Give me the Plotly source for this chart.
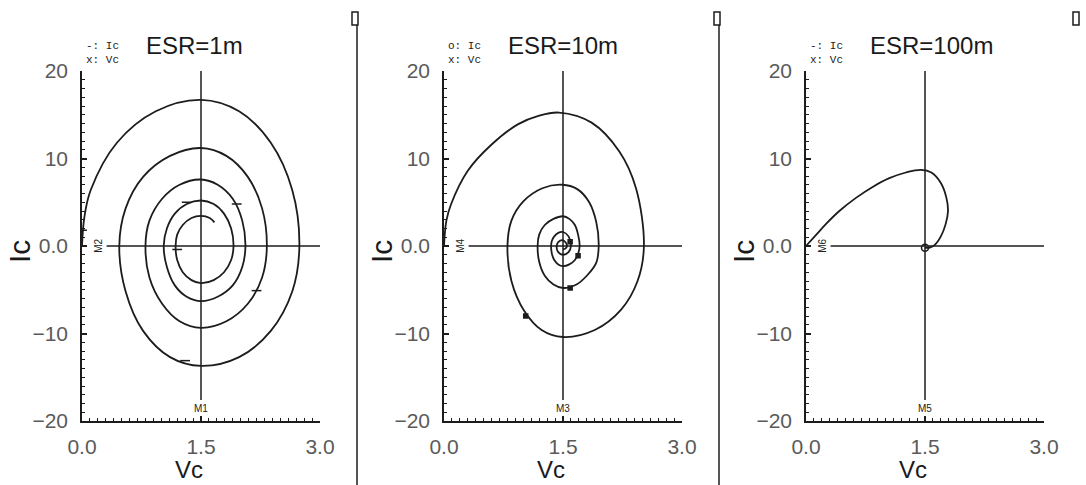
import plotly.graph_objects as go

W, H = 1086, 485

# ---- data: capacitor phase trajectories (Vc in V, Ic in A) ----
vc_1m = [0.0, 0.03, 0.11, 0.44, 0.93, 1.50, 1.98, 2.38, 2.65, 2.74,
         2.65, 2.38, 1.98, 1.50, 1.11, 0.77, 0.55, 0.47,
         0.55, 0.77, 1.11, 1.50, 1.82, 2.09, 2.27, 2.33,
         2.27, 2.09, 1.82, 1.50, 1.23, 1.01, 0.85, 0.80,
         0.85, 1.01, 1.23, 1.50, 1.71, 1.90, 2.02, 2.06,
         2.02, 1.90, 1.71, 1.50, 1.32, 1.17, 1.07, 1.03,
         1.07, 1.17, 1.32, 1.50, 1.66, 1.79, 1.88, 1.91,
         1.88, 1.79, 1.66, 1.50, 1.38, 1.27, 1.20, 1.18,
         1.20, 1.27, 1.38, 1.50, 1.61, 1.67]
ic_1m = [0.0, 3.3, 6.4, 11.8, 15.4, 16.7, 15.4, 11.8, 6.4, 0.0,
         -5.2, -9.7, -12.7, -13.7, -12.7, -9.7, -5.2, 0.0,
         4.3, 7.9, 10.3, 11.2, 10.3, 7.9, 4.3, 0.0,
         -3.6, -6.6, -8.6, -9.35, -8.6, -6.6, -3.6, 0.0,
         2.9, 5.4, 7.0, 7.6, 7.0, 5.4, 2.9, 0.0,
         -2.4, -4.5, -5.8, -6.3, -5.8, -4.5, -2.4, 0.0,
         2.0, 3.7, 4.8, 5.2, 4.8, 3.7, 2.0, 0.0,
         -1.6, -3.0, -3.9, -4.25, -3.9, -3.0, -1.6, 0.0,
         1.3, 2.4, 3.2, 3.45, 3.2, 2.7]

vc_10m = [0.0, 0.03, 0.09, 0.30, 0.60, 0.93, 1.20, 1.45,
          1.86, 2.21, 2.42, 2.52,
          2.44, 2.23, 1.90, 1.50,
          1.23, 1.01, 0.85, 0.80,
          0.85, 1.00, 1.24, 1.49,
          1.68, 1.83, 1.92, 1.95,
          1.92, 1.80, 1.67, 1.50,
          1.38, 1.27, 1.20, 1.18,
          1.20, 1.27, 1.38, 1.50,
          1.58, 1.65, 1.69, 1.71,
          1.69, 1.65, 1.58, 1.50,
          1.44, 1.39, 1.36, 1.35,
          1.36, 1.39, 1.44, 1.50,
          1.57, 1.60, 1.57, 1.50, 1.44, 1.42, 1.44, 1.50, 1.55, 1.53, 1.50]
ic_10m = [0.0, 2.9, 4.8, 8.6, 11.6, 13.9, 14.9, 15.25,
          14.1, 10.8, 6.6, 0.0,
          -4.0, -7.3, -9.6, -10.4,
          -9.6, -7.4, -4.0, 0.0,
          2.9, 5.1, 6.6, 7.0,
          6.5, 5.0, 2.7, 0.0,
          -1.9, -3.4, -4.4, -4.8,
          -4.4, -3.4, -1.8, 0.0,
          1.3, 2.4, 3.1, 3.4,
          3.1, 2.4, 1.3, 0.0,
          -0.9, -1.6, -2.1, -2.3,
          -2.1, -1.6, -0.9, 0.0,
          0.6, 1.1, 1.5, 1.6,
          1.1, 0.0, -0.7, -1.0, -0.7, 0.0, 0.45, 0.65, 0.1, -0.3, -0.35]

vc_100m = [0.0, 0.13, 0.25, 0.42, 0.63, 0.84, 1.05, 1.26, 1.45, 1.58, 1.70, 1.77, 1.79, 1.76,
           1.70, 1.62, 1.55, 1.50]
ic_100m = [0.0, 1.3, 2.5, 4.0, 5.5, 6.75, 7.75, 8.4, 8.7, 8.4, 7.2, 5.5, 4.0, 2.5,
           1.1, 0.1, -0.2, -0.2]

# sample markers along each trajectory
mk_vc_1m = [0.0, 1.32, 1.95, 1.20, 2.20, 1.30]
mk_ic_1m = [1.8, 5.0, 4.8, -0.4, -5.1, -13.1]
mk_vc_10m = [1.59, 1.69, 1.59, 1.03]
mk_ic_10m = [0.5, -1.1, -4.8, -8.0]
mk_vc_100m = [1.50]
mk_ic_100m = [-0.2]

titles = ["ESR=1m", "ESR=10m", "ESR=100m"]
legend_txt = ["-: Ic<br>x: Vc", "o: Ic<br>x: Vc", "-: Ic<br>x: Vc"]
cursor_v = ["M1", "M3", "M5"]
cursor_h = ["M2", "M4", "M6"]
x_ticks = [0.0, 1.5, 3.0]
x_ticktext = ["0.0", "1.5", "3.0"]
y_ticks = [-20, -10, 0, 10, 20]
y_ticktext = ["\u221220", "\u221210", "0.0", "10", "20"]

series = [(vc_1m, ic_1m, mk_vc_1m, mk_ic_1m, "line-ew-open", 7),
          (vc_10m, ic_10m, mk_vc_10m, mk_ic_10m, "square", 4),
          (vc_100m, ic_100m, mk_vc_100m, mk_ic_100m, "circle-open", 7)]

# panel geometry in pixels
panel_left = [82, 444, 806]
panel_w = 238
plot_top, plot_bot = 71, 421

INK = "#1c1c1c"
TICK_FONT = dict(family="Liberation Sans", size=21, color="#5a5a5a")

fig = go.Figure()
layout = dict(width=W, height=H, autosize=False, margin=dict(l=0, r=0, t=0, b=0, pad=0),
              paper_bgcolor="white", plot_bgcolor="white", showlegend=False)
shapes, annotations = [], []

for i, (vc, ic, mvc, mic, sym, msz) in enumerate(series):
    n = "" if i == 0 else str(i + 1)
    xa, ya = "x" + n, "y" + n
    fig.add_trace(go.Scatter(x=vc, y=ic, xaxis=xa, yaxis=ya, mode="lines",
                             line=dict(color=INK, width=1.8, shape="spline", smoothing=1.0),
                             hoverinfo="skip"))
    fig.add_trace(go.Scatter(x=mvc, y=mic, xaxis=xa, yaxis=ya, mode="markers",
                             marker=dict(symbol=sym, size=msz, color=INK,
                                         line=dict(color=INK, width=1.5)),
                             hoverinfo="skip"))
    x0 = panel_left[i]
    layout["xaxis" + n] = dict(
        domain=[x0 / W, (x0 + panel_w) / W], range=[0, 3.0], anchor=ya, automargin=False,
        tickmode="array", tickvals=x_ticks, ticktext=x_ticktext,
        ticks="inside", ticklen=5, tickwidth=1.5, tickcolor=INK,
        minor=dict(tickmode="linear", tick0=0, dtick=0.1, ticks="inside", ticklen=3,
                   tickwidth=1, tickcolor=INK),
        showline=True, linecolor=INK, linewidth=1.5, showgrid=False, zeroline=False,
        tickfont=TICK_FONT, ticklabelstandoff=6, fixedrange=True)
    layout["yaxis" + n] = dict(
        domain=[1 - plot_bot / H, 1 - plot_top / H], range=[-20, 20], anchor=xa, automargin=False,
        tickmode="array", tickvals=y_ticks, ticktext=y_ticktext,
        ticks="inside", ticklen=5, tickwidth=1.5, tickcolor=INK,
        minor=dict(tickmode="linear", tick0=0, dtick=1, ticks="inside", ticklen=3,
                   tickwidth=1, tickcolor=INK),
        showline=True, linecolor=INK, linewidth=1.5, showgrid=False, zeroline=False,
        tickfont=TICK_FONT, ticklabelstandoff=8, fixedrange=True)

    # cursor cross-hair lines
    shapes.append(dict(type="line", xref=xa, yref=ya, x0=1.5, x1=1.5, y0=20, y1=-17.6,
                       line=dict(color=INK, width=1.5)))
    shapes.append(dict(type="line", xref=xa, yref=ya, x0=0.31, x1=3.0, y0=0, y1=0,
                       line=dict(color=INK, width=1.5)))
    annotations.append(dict(xref=xa, yref=ya, x=1.5, y=-18.6, text=cursor_v[i], showarrow=False,
                            font=dict(family="Liberation Sans", size=10, color="#222")))
    annotations.append(dict(xref=xa, yref=ya, x=0.2, y=0, text=cursor_h[i], showarrow=False,
                            textangle=-90,
                            font=dict(family="Liberation Sans", size=10, color="#222")))

    # panel title and trace key
    annotations.append(dict(xref="paper", yref="paper", x=(x0 + 62) / W, y=1 - 45 / H,
                            xanchor="left", yanchor="middle", text=titles[i], showarrow=False,
                            font=dict(family="Liberation Sans", size=24, color="#1a1a1a")))
    annotations.append(dict(xref="paper", yref="paper", x=(x0 + 2) / W, y=1 - 53 / H,
                            xanchor="left", yanchor="middle", text=legend_txt[i], showarrow=False,
                            align="left",
                            font=dict(family="Liberation Mono", size=11, color="#222")))
    # axis titles
    annotations.append(dict(xref="paper", yref="paper", x=(x0 - 63) / W, y=1 - 252 / H,
                            xanchor="center", yanchor="middle", text="Ic", textangle=-90,
                            showarrow=False,
                            font=dict(family="Liberation Sans", size=30, color="#1a1a1a")))
    annotations.append(dict(xref="paper", yref="paper", x=(x0 + 107) / W, y=1 - 469 / H,
                            xanchor="center", yanchor="middle", text="Vc", showarrow=False,
                            font=dict(family="Liberation Sans", size=24, color="#1a1a1a")))

    # window divider and its small handle glyph
    sep_x = x0 + 275
    if i < 2:
        shapes.append(dict(type="line", xref="paper", yref="paper", x0=sep_x / W, x1=sep_x / W,
                           y0=0, y1=1 - 22 / H, line=dict(color=INK, width=1.5)))
    hx = sep_x - 5 if i < 2 else sep_x - 8
    shapes.append(dict(type="rect", xref="paper", yref="paper", x0=hx / W, x1=(hx + 6) / W,
                       y0=1 - 25 / H, y1=1 - 12 / H, line=dict(color=INK, width=1.5),
                       fillcolor="white"))

layout["shapes"] = shapes
layout["annotations"] = annotations
fig.update_layout(**layout)
fig.write_html("out.html")
